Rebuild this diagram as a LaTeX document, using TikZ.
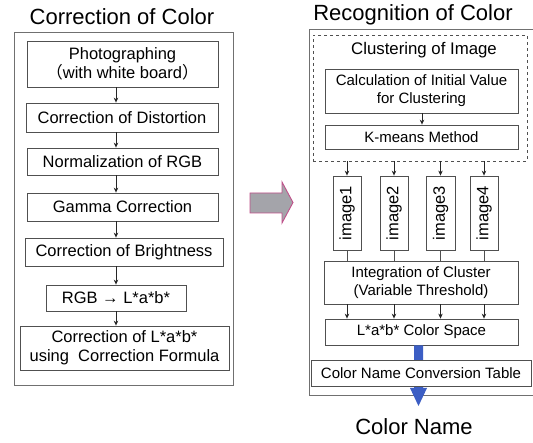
\documentclass[tikz,border=0pt]{standalone}
\usepackage{fontspec}
\setmainfont{Liberation Sans}
\newfontfamily\cjk{Noto Sans CJK JP}
\usetikzlibrary{arrows.meta}
\definecolor{boxline}{HTML}{505050}
\definecolor{outerline}{HTML}{707070}
\definecolor{greyfill}{HTML}{A4A4AA}
\definecolor{pinkline}{HTML}{C0508A}
\definecolor{bluearrow}{HTML}{3C5EC4}
\tikzset{
  box/.style={draw=boxline, line width=0.8pt, fill=white, inner sep=0pt, align=center, font=\fontsize{16.5}{19}\selectfont},
  rbox/.style={box, font=\fontsize{15}{18}\selectfont},
  imgbox/.style={box, font=\fontsize{16.5}{19}\selectfont},
  outerbox/.style={draw=outerline, line width=0.8pt},
  arr/.style={draw=black!85, line width=0.7pt, -{Stealth[length=5pt,width=4.5pt]}},
  plain/.style={draw=boxline, line width=0.7pt},
  title/.style={font=\fontsize{22}{26}\selectfont, inner sep=0pt},
}
\begin{document}
\begin{tikzpicture}[x=1pt,y=-1pt]
\useasboundingbox (0,0) rectangle (533,443);
\clip (0,0) rectangle (533,443);
\fill[white] (0,0) rectangle (533,443);

% ---------- Left: Correction of Color ----------
\node[title] (ltitle) at (122,17) {Correction of Color};
\draw[outerbox] (14,32) rectangle (233,385);
\coordinate (lax) at (116,0);

\node[box, minimum width=191pt, minimum height=46pt] (photo) at (122.5,64)
  {Photographing\\{\cjk （}with white board{\cjk ）}};
\node[box, minimum width=192pt, minimum height=29pt] (dist) at (122,117.5) {Correction of Distortion};
\node[box, minimum width=191pt, minimum height=27pt] (norm) at (122.5,161.5) {Normalization of RGB};
\node[box, minimum width=191pt, minimum height=28pt] (gamma) at (122.5,207) {Gamma Correction};
\node[box, minimum width=198pt, minimum height=28pt] (bright) at (124,252) {Correction of Brightness};
\node[box, minimum width=140pt, minimum height=26pt] (rgb) at (116,298) {RGB → L*a*b*};
\node[box, minimum width=209pt, minimum height=44pt] (corr) at (124.5,348)
  {Correction of L*a*b*\\using\ \ Correction Formula};

\draw[arr] (photo.south -| lax) -- (dist.north -| lax);
\draw[arr] (dist.south -| lax) -- (norm.north -| lax);
\draw[arr] (norm.south -| lax) -- (gamma.north -| lax);
\draw[arr] (gamma.south -| lax) -- (bright.north -| lax);
\draw[arr] (bright.south -| lax) -- (rgb.north -| lax);
\draw[arr] (rgb.south -| lax) -- (corr.north -| lax);

% ---------- Big grey arrow ----------
\draw[fill=greyfill, draw=pinkline, line width=0.9pt, line join=miter]
  (250,193) -- (282,193) -- (282,182) -- (293,202.5) -- (282,223) -- (282,213) -- (250,213) -- cycle;

% ---------- Right: Recognition of Color ----------
\node[title] (rtitle) at (413,15) {Recognition of Color};
\draw[outerbox] (309,29) -- (540,29) -- (540,395) -- (309,395) -- cycle;

\node[draw=boxline, dashed, line width=0.7pt, minimum width=214pt, minimum height=126pt, inner sep=0pt] (dashbox) at (420,98) {};
\node[font=\fontsize{16.8}{20}\selectfont, inner sep=0pt] (clus) at (424,50) {Clustering of Image};
\node[rbox, minimum width=193pt, minimum height=44pt] (calc) at (421.5,91)
  {Calculation of Initial Value\\for Clustering};
\node[rbox, minimum width=193pt, minimum height=24pt] (kmeans) at (421.5,137) {K-means Method};
\coordinate (kax) at (422,0);
\draw[arr] (calc.south -| kax) -- (kmeans.north -| kax);

\node[imgbox, minimum width=74pt, minimum height=28pt, rotate=90] (img1) at (347,213) {image1};
\node[imgbox, minimum width=74pt, minimum height=28pt, rotate=90] (img2) at (394,213) {image2};
\node[imgbox, minimum width=74pt, minimum height=29pt, rotate=90] (img3) at (440.5,213) {image3};
\node[imgbox, minimum width=74pt, minimum height=28pt, rotate=90] (img4) at (484,213) {image4};

\draw[arr] (dashbox.south -| img1.center) -- (img1.east);
\draw[arr] (dashbox.south -| img2.center) -- (img2.east);
\draw[arr] (dashbox.south -| img3.center) -- (img3.east);
\draw[arr] (dashbox.south -| img4.center) -- (img4.east);

\node[rbox, minimum width=194pt, minimum height=43pt] (integ) at (421,282.5)
  {Integration of Cluster\\(Variable Threshold)};
\draw[plain] (img1.west) -- (integ.north -| img1.center);
\draw[plain] (img2.west) -- (integ.north -| img2.center);
\draw[plain] (img3.west) -- (integ.north -| img3.center);
\draw[plain] (img4.west) -- (integ.north -| img4.center);

\node[rbox, minimum width=193pt, minimum height=26pt] (lab) at (421.5,332) {L*a*b* Color Space};
\draw[arr] (integ.south -| img1.center) -- (lab.north -| img1.center);
\draw[arr] (integ.south -| img2.center) -- (lab.north -| img2.center);
\draw[arr] (integ.south -| img3.center) -- (lab.north -| img3.center);
\draw[arr] (integ.south -| img4.center) -- (lab.north -| img4.center);

% blue arrow (drawn before the table box so the box covers it)
\coordinate (btip) at (418.5,406);
\fill[bluearrow] (lab.south -| 414,0) -- (414,388) -- (410,388) -- (btip) -- (427,388) -- (423,388) -- (lab.south -| 423,0) -- cycle;

\node[rbox, minimum width=220pt, minimum height=26pt] (cnct) at (421,373) {Color Name Conversion Table};

\node[title] (cname) at (414,427) {Color Name};
\end{tikzpicture}
\end{document}
